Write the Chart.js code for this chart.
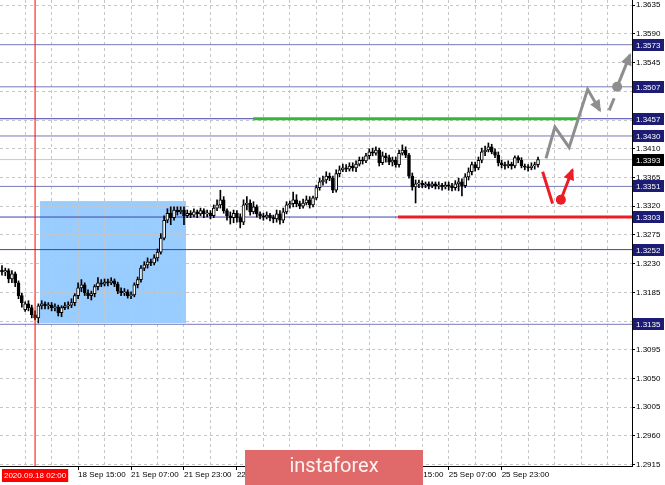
<!DOCTYPE html>
<html>
<head>
<meta charset="utf-8">
<script src="https://cdn.jsdelivr.net/npm/chart.js@4.4.0/dist/chart.umd.min.js"></script>
<style>
  html, body { margin: 0; padding: 0; background: #fff; }
  #wrap { width: 665px; height: 485px; }
</style>
</head>
<body>
<div id="wrap"><canvas id="priceChart" width="665" height="485"></canvas></div>
<script>
// GBPUSD H1 candles, bar index 0 = 17 Sep 16:00 (index 10 = 2020.09.18 02:00)
const openPrices = [
  1.3220,1.3217,1.3219,1.3206,1.3214,1.3200,1.3180,1.3158,1.3167,1.3161,
  1.3150,1.3145,1.3164,1.3167,1.3164,1.3165,1.3161,1.3162,1.3153,1.3161,
  1.3164,1.3165,1.3169,1.3180,1.3192,1.3197,1.3184,1.3180,1.3183,1.3194,
  1.3200,1.3198,1.3201,1.3200,1.3203,1.3198,1.3187,1.3184,1.3186,1.3180,
  1.3181,1.3197,1.3205,1.3223,1.3228,1.3233,1.3231,1.3239,1.3248,1.3270,
  1.3298,1.3309,1.3302,1.3314,1.3311,1.3314,1.3305,1.3309,1.3306,1.3311,
  1.3308,1.3313,1.3308,1.3309,1.3305,1.3317,1.3322,1.3330,1.3313,1.3305,
  1.3302,1.3309,1.3302,1.3295,1.3322,1.3325,1.3311,1.3319,1.3308,1.3305,
  1.3303,1.3306,1.3302,1.3300,1.3308,1.3298,1.3311,1.3322,1.3324,1.3330,
  1.3324,1.3320,1.3325,1.3330,1.3322,1.3333,1.3349,1.3358,1.3361,1.3367,
  1.3364,1.3345,1.3371,1.3377,1.3380,1.3378,1.3383,1.3380,1.3386,1.3392,
  1.3391,1.3399,1.3405,1.3403,1.3408,1.3388,1.3399,1.3396,1.3389,1.3392,
  1.3385,1.3403,1.3408,1.3400,1.3367,1.3350,1.3355,1.3356,1.3353,1.3355,
  1.3352,1.3355,1.3352,1.3353,1.3350,1.3353,1.3352,1.3349,1.3355,1.3358,
  1.3352,1.3366,1.3374,1.3385,1.3380,1.3392,1.3405,1.3408,1.3413,1.3405,
  1.3400,1.3388,1.3385,1.3383,1.3386,1.3383,1.3396,1.3392,1.3383,1.3381,
  1.3380,1.3383,1.3385
];
const highPrices = [
  1.3227,1.3223,1.3222,1.3219,1.3217,1.3203,1.3184,1.3170,1.3172,1.3165,
  1.3156,1.3167,1.3172,1.3170,1.3169,1.3169,1.3167,1.3165,1.3164,1.3169,
  1.3170,1.3175,1.3183,1.3200,1.3205,1.3200,1.3189,1.3187,1.3197,1.3208,
  1.3205,1.3206,1.3206,1.3208,1.3206,1.3201,1.3192,1.3191,1.3189,1.3186,
  1.3200,1.3209,1.3227,1.3233,1.3239,1.3237,1.3244,1.3253,1.3277,1.3305,
  1.3316,1.3319,1.3319,1.3319,1.3319,1.3319,1.3314,1.3313,1.3316,1.3314,
  1.3317,1.3316,1.3314,1.3313,1.3322,1.3330,1.3345,1.3335,1.3316,1.3311,
  1.3314,1.3313,1.3308,1.3330,1.3335,1.3330,1.3327,1.3322,1.3311,1.3309,
  1.3311,1.3309,1.3306,1.3314,1.3313,1.3317,1.3327,1.3328,1.3342,1.3338,
  1.3328,1.3331,1.3336,1.3335,1.3336,1.3353,1.3364,1.3367,1.3374,1.3372,
  1.3367,1.3377,1.3383,1.3386,1.3385,1.3388,1.3388,1.3391,1.3397,1.3397,
  1.3403,1.3410,1.3411,1.3413,1.3411,1.3405,1.3403,1.3400,1.3397,1.3397,
  1.3408,1.3416,1.3413,1.3403,1.3372,1.3361,1.3361,1.3360,1.3358,1.3358,
  1.3358,1.3358,1.3358,1.3356,1.3358,1.3358,1.3356,1.3360,1.3364,1.3363,
  1.3371,1.3380,1.3389,1.3389,1.3397,1.3411,1.3414,1.3419,1.3417,1.3410,
  1.3405,1.3392,1.3389,1.3391,1.3389,1.3399,1.3399,1.3396,1.3386,1.3385,
  1.3388,1.3389,1.3397
];
const lowPrices = [
  1.3212,1.3211,1.3200,1.3200,1.3194,1.3175,1.3162,1.3155,1.3156,1.3145,
  1.3142,1.3137,1.3159,1.3159,1.3159,1.3156,1.3156,1.3148,1.3147,1.3158,
  1.3159,1.3161,1.3164,1.3175,1.3186,1.3180,1.3175,1.3173,1.3178,1.3189,
  1.3194,1.3195,1.3195,1.3197,1.3194,1.3183,1.3180,1.3180,1.3176,1.3175,
  1.3178,1.3192,1.3201,1.3219,1.3223,1.3227,1.3228,1.3234,1.3245,1.3267,
  1.3294,1.3291,1.3298,1.3306,1.3308,1.3291,1.3302,1.3302,1.3303,1.3302,
  1.3305,1.3302,1.3303,1.3300,1.3302,1.3313,1.3317,1.3309,1.3298,1.3292,
  1.3294,1.3295,1.3286,1.3291,1.3314,1.3306,1.3308,1.3303,1.3300,1.3298,
  1.3300,1.3297,1.3294,1.3295,1.3292,1.3294,1.3308,1.3317,1.3319,1.3319,
  1.3316,1.3317,1.3322,1.3317,1.3319,1.3330,1.3345,1.3353,1.3356,1.3360,
  1.3341,1.3342,1.3366,1.3374,1.3374,1.3375,1.3375,1.3374,1.3383,1.3386,
  1.3388,1.3394,1.3399,1.3400,1.3383,1.3385,1.3389,1.3385,1.3383,1.3381,
  1.3381,1.3400,1.3396,1.3364,1.3345,1.3325,1.3349,1.3349,1.3349,1.3347,
  1.3349,1.3347,1.3347,1.3345,1.3347,1.3345,1.3344,1.3345,1.3344,1.3336,
  1.3349,1.3361,1.3369,1.3375,1.3377,1.3388,1.3399,1.3405,1.3402,1.3396,
  1.3383,1.3380,1.3378,1.3380,1.3378,1.3380,1.3388,1.3380,1.3377,1.3375,
  1.3377,1.3378,1.3381
];
const closePrices = [
  1.3217,1.3219,1.3206,1.3214,1.3200,1.3180,1.3169,1.3167,1.3161,1.3150,
  1.3145,1.3164,1.3167,1.3164,1.3165,1.3161,1.3162,1.3153,1.3161,1.3164,
  1.3165,1.3169,1.3180,1.3192,1.3197,1.3184,1.3180,1.3183,1.3194,1.3200,
  1.3198,1.3201,1.3200,1.3203,1.3198,1.3187,1.3184,1.3186,1.3180,1.3181,
  1.3197,1.3205,1.3223,1.3228,1.3233,1.3231,1.3239,1.3248,1.3270,1.3298,
  1.3309,1.3302,1.3314,1.3311,1.3314,1.3305,1.3309,1.3306,1.3311,1.3308,
  1.3313,1.3308,1.3309,1.3305,1.3317,1.3322,1.3330,1.3313,1.3305,1.3302,
  1.3309,1.3302,1.3295,1.3322,1.3325,1.3311,1.3319,1.3308,1.3305,1.3303,
  1.3306,1.3302,1.3300,1.3308,1.3298,1.3311,1.3322,1.3324,1.3330,1.3324,
  1.3320,1.3325,1.3330,1.3322,1.3333,1.3349,1.3358,1.3361,1.3367,1.3364,
  1.3345,1.3371,1.3377,1.3380,1.3378,1.3383,1.3380,1.3386,1.3392,1.3391,
  1.3399,1.3405,1.3403,1.3408,1.3388,1.3399,1.3396,1.3389,1.3392,1.3385,
  1.3403,1.3408,1.3400,1.3367,1.3350,1.3355,1.3356,1.3353,1.3355,1.3352,
  1.3355,1.3352,1.3353,1.3350,1.3353,1.3352,1.3349,1.3355,1.3358,1.3352,
  1.3366,1.3374,1.3385,1.3380,1.3392,1.3405,1.3408,1.3413,1.3405,1.3400,
  1.3388,1.3385,1.3383,1.3386,1.3383,1.3396,1.3392,1.3383,1.3381,1.3380,
  1.3383,1.3385,1.3393
];

// axes
const yTicks = [1.2915, 1.2960, 1.3005, 1.3050, 1.3095, 1.3140, 1.3185, 1.3230, 1.3275,
                1.3320, 1.3365, 1.3410, 1.3455, 1.3500, 1.3545, 1.3590, 1.3635];
const gridBars = [7, 15, 23, 31, 39, 47, 55, 63, 71, 79, 87, 95, 103, 111, 119, 127,
                  135, 143, 151, 159, 167, 175, 183];
const timeTickBars = [23, 39, 55, 71, 87, 103, 119, 135, 151];
const timeTickText = ['18 Sep 15:00', '21 Sep 07:00', '21 Sep 23:00', '22 Sep 15:00', '23 Sep 07:00',
                      '23 Sep 23:00', '24 Sep 15:00', '25 Sep 07:00', '25 Sep 23:00'];
const cursorBar = 10;
const cursorText = '2020.09.18 02:00';

// levels and drawings
const levelPrices = [1.3573, 1.3507, 1.3457, 1.3430, 1.3351, 1.3303, 1.3252, 1.3135];
const strongLevels = [1.3457, 1.3303, 1.3252];
const lastPrice = 1.3393;
const zoneBars = [11.5, 55.6];
const zonePrices = [1.3137, 1.3328];
const resistanceLine = { bars: [75.9, 174.0], price: 1.3457 };
const supportLine = { bars: [119.7, 190.4], price: 1.3303 };
const bullPath = [[164.4, 1.3395], [167.1, 1.3444], [171.4, 1.3412], [177.0, 1.3503], [180.7, 1.3470]];
const bullDash = [[183.5, 1.3470], [185.0, 1.3489]];
const bullArrow = [[185.9, 1.3507], [189.8, 1.3557]];
const bearDash = [[163.4, 1.3374], [166.4, 1.3324]];
const bearArrow = [[168.9, 1.3330], [172.4, 1.3377]];

const xMin = -0.6, xMax = 190.4;
const yMin = 1.2913, yMax = 1.3643;

const FONT = '"Liberation Sans", Arial, sans-serif';
const GRAY = '#8e8e8e';
const RED = '#ee1c24';
const toXY = arr => arr.map(p => ({ x: p[0], y: p[1] }));

function hLine(price, from, to, color, width, order) {
    return {
        type: 'line',
        data: [{ x: from, y: price }, { x: to, y: price }],
        borderColor: color,
        borderWidth: width,
        pointRadius: 0,
        order: order
    };
}

const datasets = [
    {
        label: 'body',
        type: 'bar',
        data: openPrices.map((o, i) => ({ x: i, y: [o, closePrices[i]] })),
        backgroundColor: openPrices.map((o, i) => closePrices[i] > o ? '#ffffff' : '#000000'),
        borderColor: '#000',
        borderWidth: 1,
        borderSkipped: false,
        barThickness: 3,
        minBarLength: 1,
        grouped: false,
        order: 2
    },
    {
        label: 'wick',
        type: 'bar',
        data: lowPrices.map((l, i) => ({ x: i, y: [l, highPrices[i]] })),
        backgroundColor: '#000',
        barThickness: 1,
        grouped: false,
        order: 3
    },
    hLine(lastPrice, xMin, xMax, '#c8c8c8', 1, 13),
    ...levelPrices.map(p => hLine(p, xMin, xMax, strongLevels.includes(p) ? '#4242b0' : '#7878b8', 1, 12)),
    hLine(resistanceLine.price, resistanceLine.bars[0], resistanceLine.bars[1], '#35b835', 3, 5),
    hLine(supportLine.price, supportLine.bars[0], supportLine.bars[1], RED, 3, 5),
    {
        type: 'line',
        data: [{ x: cursorBar, y: yMin }, { x: cursorBar, y: yMax }],
        borderColor: '#ff0000', borderWidth: 1, pointRadius: 0, order: 0
    },
    { type: 'line', data: toXY(bullPath), borderColor: GRAY, borderWidth: 3, pointRadius: 0, arrow: true, order: 0 },
    { type: 'line', data: toXY(bullDash), borderColor: GRAY, borderWidth: 3, pointRadius: 0, order: 0 },
    { type: 'line', data: toXY(bullArrow), borderColor: GRAY, borderWidth: 3, pointRadius: [5, 0],
      pointBackgroundColor: GRAY, pointBorderWidth: 0, arrow: true, order: 0 },
    { type: 'line', data: toXY(bearDash), borderColor: RED, borderWidth: 3, pointRadius: 0, order: 0 },
    { type: 'line', data: toXY(bearArrow), borderColor: RED, borderWidth: 3, pointRadius: [5, 0],
      pointBackgroundColor: RED, pointBorderWidth: 0, arrow: true, order: 0 }
];

const overlay = {
    id: 'overlay',
    beforeDraw(chart) {
        const { ctx, scales: { x, y } } = chart;
        const x0 = x.getPixelForValue(zoneBars[0]);
        const x1 = x.getPixelForValue(zoneBars[1]);
        const y0 = y.getPixelForValue(zonePrices[1]);
        const y1 = y.getPixelForValue(zonePrices[0]);
        ctx.save();
        ctx.fillStyle = '#99ccff';
        ctx.fillRect(x0, y0, x1 - x0, y1 - y0);
        ctx.restore();
    },
    afterDatasetsDraw(chart) {
        const ctx = chart.ctx;
        chart.data.datasets.forEach((ds, i) => {
            if (!ds.arrow) return;
            const pts = chart.getDatasetMeta(i).data;
            const a = pts[pts.length - 2], b = pts[pts.length - 1];
            const ang = Math.atan2(b.y - a.y, b.x - a.x);
            ctx.save();
            ctx.translate(b.x, b.y);
            ctx.rotate(ang);
            ctx.fillStyle = ds.borderColor;
            ctx.beginPath();
            ctx.moveTo(2, 0);
            ctx.lineTo(-10, -5.5);
            ctx.lineTo(-10, 5.5);
            ctx.closePath();
            ctx.fill();
            ctx.restore();
        });
    },
    afterDraw(chart) {
        const { ctx, chartArea, scales: { x, y } } = chart;
        ctx.save();
        ctx.font = '8px ' + FONT;
        ctx.textBaseline = 'middle';
        // price boxes on the right axis
        const box = (price, fill) => {
            const py = Math.round(y.getPixelForValue(price));
            ctx.fillStyle = fill;
            ctx.fillRect(chartArea.right + 1, py - 6, 31, 12);
            ctx.fillStyle = '#fff';
            ctx.textAlign = 'left';
            ctx.fillText(price.toFixed(4), chartArea.right + 4, py + 0.5);
        };
        levelPrices.forEach(p => box(p, '#1c1c74'));
        box(lastPrice, '#000');

        // cursor time label
        const cx = x.getPixelForValue(cursorBar);
        const tw = ctx.measureText(cursorText).width + 4;
        ctx.fillStyle = '#ff0000';
        ctx.fillRect(Math.max(0, cx - tw / 2), chartArea.bottom + 3, tw, 13);
        ctx.fillStyle = '#fff';
        ctx.textAlign = 'center';
        ctx.fillText(cursorText, Math.max(tw / 2, cx), chartArea.bottom + 10);

        // watermark
        ctx.fillStyle = '#e06a6a';
        ctx.fillRect(245, 450, 178, 35);
        ctx.fillStyle = 'rgba(255,255,255,0.92)';
        ctx.font = '20px Roboto, "Open Sans", sans-serif';
        ctx.textAlign = 'center';
        ctx.fillText('instaforex', 334, 467);
        ctx.restore();
    }
};

new Chart(document.getElementById('priceChart'), {
    type: 'bar',
    data: { datasets },
    plugins: [overlay],
    options: {
        responsive: false,
        animation: false,
        events: [],
        layout: { padding: 0, autoPadding: false },
        plugins: { legend: { display: false }, tooltip: { enabled: false } },
        scales: {
            x: {
                type: 'linear',
                min: xMin,
                max: xMax,
                offset: false,
                afterBuildTicks: s => { s.ticks = gridBars.map(v => ({ value: v })); },
                afterFit: s => { s.height = 19; s.paddingLeft = 0; s.paddingRight = 0; },
                grid: {
                    color: '#c6c6c6',
                    offset: false,
                    tickLength: 4,
                    tickColor: c => (c.tick && timeTickBars.includes(c.tick.value)) ? '#000' : 'rgba(0,0,0,0)'
                },
                border: { color: '#000', width: 1, dash: [3, 3] },
                ticks: {
                    align: 'start',
                    autoSkip: false,
                    maxRotation: 0,
                    padding: 0,
                    color: '#000',
                    font: { family: FONT, size: 8 },
                    callback: v => {
                        const k = timeTickBars.indexOf(v);
                        return k >= 0 ? timeTickText[k] : '';
                    }
                }
            },
            y: {
                type: 'linear',
                position: 'right',
                min: yMin,
                max: yMax,
                beginAtZero: false,
                afterBuildTicks: s => { s.ticks = yTicks.map(v => ({ value: v })); },
                afterFit: s => { s.width = 33; s.paddingTop = 0; s.paddingBottom = 0; },
                grid: { color: '#c6c6c6', tickLength: 3, tickColor: '#000' },
                border: { color: '#000', width: 1, dash: [3, 3] },
                ticks: {
                    padding: 1,
                    color: '#000',
                    font: { family: FONT, size: 8 },
                    callback: v => v.toFixed(4)
                }
            }
        }
    }
});
</script>
</body>
</html>
